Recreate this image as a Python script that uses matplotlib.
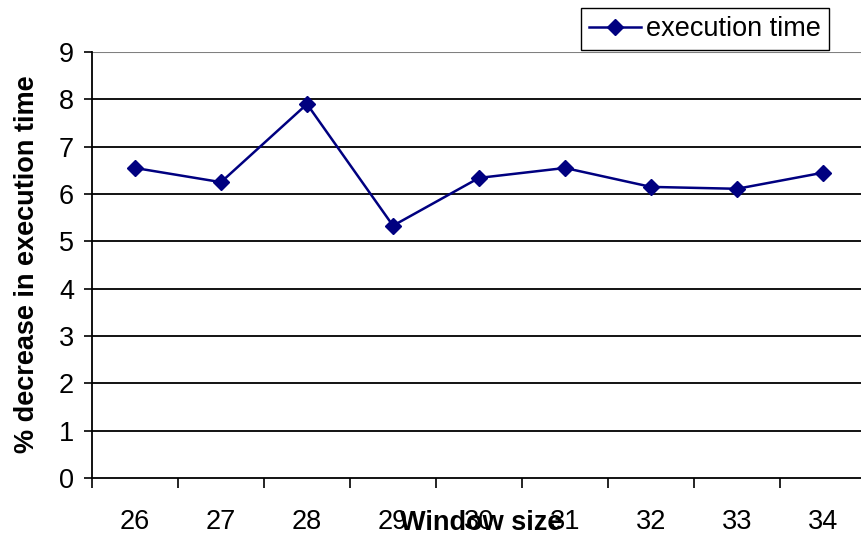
import matplotlib
matplotlib.use("Agg")
matplotlib.rcParams["font.family"] = "Liberation Sans"

import matplotlib.pyplot as plt
import numpy as np

# data
window_sizes = ["26", "27", "28", "29", "30", "31", "32", "33", "34"]
exec_time = [6.55, 6.25, 7.9, 5.33, 6.34, 6.55, 6.15, 6.11, 6.45]

FS = 19.5

fig = plt.figure(figsize=(8.62, 5.40), dpi=100)
ax = fig.add_axes([92 / 862, 62 / 540, 774 / 862, 426 / 540])

x = np.arange(len(window_sizes))

# horizontal gridlines
for yv in range(1, 9):
    ax.axhline(yv, color="black", lw=1.3, zorder=1)
ax.axhline(9, color="#808080", lw=1.5, zorder=1)

ax.plot(x, exec_time, color="#000080", lw=1.8, marker="D", ms=8,
        label="execution time", zorder=3)

ax.set_xlim(-0.5, len(window_sizes) - 0.5)
ax.set_ylim(0, 9)
ax.set_yticks(range(0, 10))
ax.tick_params(axis="y", labelsize=FS, length=6, width=1.2, direction="out", pad=7)

ax.set_xticks(x)
ax.set_xticklabels(window_sizes)
ax.set_xticks(np.arange(-0.5, len(window_sizes)), minor=True)
ax.tick_params(axis="x", which="major", length=0, pad=22, labelsize=FS)
ax.tick_params(axis="x", which="minor", length=7, width=1.2, direction="out")

for s in ["top", "right"]:
    ax.spines[s].set_visible(False)
ax.spines["left"].set_linewidth(1.3)
ax.spines["bottom"].set_linewidth(1.3)

fig.text(27 / 862, 1 - 264 / 540, "% decrease in execution time", rotation=90,
         ha="center", va="center", fontsize=FS, fontweight="bold")
fig.text(481 / 862, 1 - 523 / 540, "Window size", ha="center", va="center",
         fontsize=FS, fontweight="bold")

leg = ax.legend(loc="upper right", bbox_to_anchor=(829 / 862, 1 - 8 / 540),
                bbox_transform=fig.transFigure, borderaxespad=0, fancybox=False,
                edgecolor="black", framealpha=1, fontsize=FS, handlelength=1.9,
                handletextpad=0.2, borderpad=0.3)
leg.get_frame().set_linewidth(1.0)

fig.savefig("out.png", dpi=100)
